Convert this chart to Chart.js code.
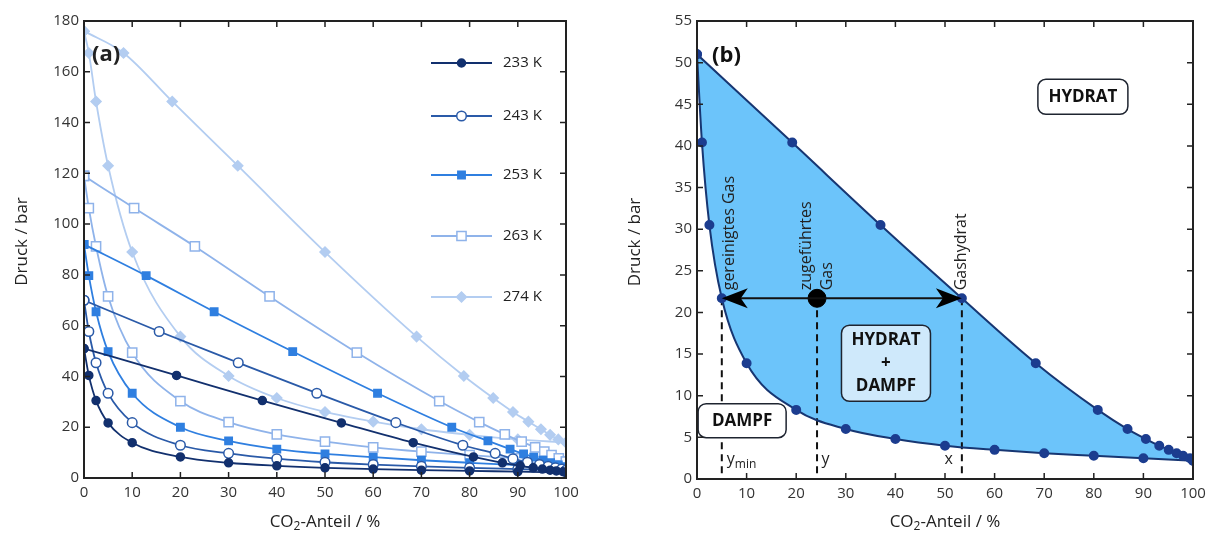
<!DOCTYPE html>
<html>
<head>
<meta charset="utf-8">
<script src="https://cdn.jsdelivr.net/npm/chart.js@4.4.1/dist/chart.umd.min.js"></script>
<style>
  body { margin: 0; background: #fff; width: 1213px; height: 534px; position: relative; overflow: hidden; }
  .wrap { position: absolute; top: 0; width: 600px; height: 534px; }
  #wa { left: 0; }
  #wb { left: 613px; }
</style>
</head>
<body>
<div class="wrap" id="wa"><canvas id="chart-a"></canvas></div>
<div class="wrap" id="wb"><canvas id="chart-b"></canvas></div>
<script>
// data: pressure (bar) vs CO2 share (%)
const temps = ["233 K", "243 K", "253 K", "263 K", "274 K"];
const xVapor = [0, 1, 2.5, 5, 10, 20, 30, 40, 50, 60, 70, 80, 90, 100];

const p233 = [51, 40.4, 30.5, 21.7, 13.9, 8.3, 6.0, 4.8, 4.0, 3.5, 3.1, 2.8, 2.5, 2.2];
const xHyd233 = [0, 19.2, 37, 53.4, 68.3, 80.8, 86.8, 90.5, 93.2, 95.1, 96.7, 98, 99.4, 100];

const p243 = [70, 57.7, 45.4, 33.4, 21.8, 12.9, 9.7, 7.6, 6.2, 5.3, 4.6, 4.0, 3.5, 3.0];
const xHyd243 = [0, 15.6, 32, 48.3, 64.7, 78.6, 85.3, 89, 92, 94.5, 96.3, 97.8, 99.1, 100];

const p253 = [92, 79.7, 65.5, 49.8, 33.4, 20, 14.6, 11.4, 9.5, 8.2, 7, 6, 5.1, 4.4];
const xHyd253 = [0, 12.9, 27, 43.3, 60.9, 76.3, 83.8, 88.4, 91.2, 93.3, 95.2, 96.8, 98.4, 100];

const p263 = [119, 106.3, 91.2, 71.5, 49.4, 30.3, 22, 17.2, 14.3, 12.1, 10.4, 9, 7.7, 6.5];
const xHyd263 = [0, 10.4, 23, 38.5, 56.6, 73.7, 82, 87.3, 90.8, 93.6, 95.5, 97, 98.5, 100];

const p274 = [176, 167.4, 148.3, 123, 89, 55.7, 40.2, 31.5, 26, 22.2, 19.2, 17, 15.2, 14];
const xHyd274 = [0, 8.2, 18.3, 31.9, 50, 69, 78.8, 84.9, 89, 92.2, 94.8, 96.7, 98.4, 100];

const pressures = [p233, p243, p253, p263, p274];
const xHydrate = [xHyd233, xHyd243, xHyd253, xHyd263, xHyd274];

// panel (b): operating point at 233 K
const pFeed = 21.7;
const yMinShare = 5;
const feedShare = 24.2;
const hydShare = 53.4;

const xTicks = [0, 10, 20, 30, 40, 50, 60, 70, 80, 90, 100];

// styles
const colors = ["#12306e", "#2a5aa8", "#2f7fe0", "#8fb3ea", "#b3cdf1"];
const pStyles = ["circle", "circle", "rect", "rect", "rectRot"];
const pRadius = [4, 4.8, 5.2, 6.5, 5];
const pOpen = [false, true, false, true, false];

const FONT = "'Open Sans', 'DejaVu Sans', sans-serif";
const pts = (xs, ys) => xs.map((x, i) => ({ x, y: ys[i] }));

function scalesFor(ymax, ystep, yw, xh) {
  return {
    x: {
      type: "linear", min: 0, max: 100,
      afterBuildTicks: s => { s.ticks = xTicks.map(v => ({ value: v })); },
      grid: { display: false, drawTicks: false },
      border: { display: false },
      ticks: { color: "#333", padding: 6, font: { family: FONT, size: 15 } },
      afterFit: s => { s.height = xh; }
    },
    y: {
      type: "linear", min: 0, max: ymax,
      grid: { display: false, drawTicks: false },
      border: { display: false },
      ticks: { stepSize: ystep, color: "#333", padding: 5, font: { family: FONT, size: 15 } },
      afterFit: s => { s.width = yw; }
    }
  };
}

// box with inward ticks on all four sides, plus axis titles
const frame = {
  id: "frame",
  afterDraw(chart) {
    const { ctx, chartArea: a, scales: { x, y } } = chart;
    ctx.save();
    ctx.strokeStyle = "#222";
    ctx.lineWidth = 1.5;
    x.ticks.forEach(t => {
      const px = x.getPixelForValue(t.value);
      ctx.beginPath();
      ctx.moveTo(px, a.bottom); ctx.lineTo(px, a.bottom - 6);
      ctx.moveTo(px, a.top); ctx.lineTo(px, a.top + 6);
      ctx.stroke();
    });
    y.ticks.forEach(t => {
      const py = y.getPixelForValue(t.value);
      ctx.beginPath();
      ctx.moveTo(a.left, py); ctx.lineTo(a.left + 6, py);
      ctx.moveTo(a.right, py); ctx.lineTo(a.right - 6, py);
      ctx.stroke();
    });
    ctx.lineWidth = 2;
    ctx.strokeRect(a.left, a.top, a.right - a.left, a.bottom - a.top);

    // axis titles
    ctx.fillStyle = "#222";
    ctx.font = "17px " + FONT;
    ctx.textBaseline = "middle";
    const cx = (a.left + a.right) / 2;
    const ty = 522;
    const w1 = ctx.measureText("CO").width;
    ctx.font = "12px " + FONT;
    const w2 = ctx.measureText("2").width;
    ctx.font = "17px " + FONT;
    const w3 = ctx.measureText("-Anteil / %").width;
    let sx = cx - (w1 + w2 + w3) / 2;
    ctx.textAlign = "left";
    ctx.fillText("CO", sx, ty);
    ctx.font = "12px " + FONT;
    ctx.fillText("2", sx + w1, ty + 5);
    ctx.font = "17px " + FONT;
    ctx.fillText("-Anteil / %", sx + w1 + w2, ty);

    ctx.translate(a.left - 62, (a.top + a.bottom) / 2 - 8);
    ctx.rotate(-Math.PI / 2);
    ctx.textAlign = "center";
    ctx.fillText("Druck / bar", 0, 0);
    ctx.restore();
  }
};

function drawMarker(ctx, style, r, x, y) {
  if (Chart.helpers && Chart.helpers.drawPoint) {
    Chart.helpers.drawPoint(ctx, { pointStyle: style, radius: r, borderWidth: ctx.lineWidth, rotation: 0 }, x, y);
    return;
  }
  ctx.beginPath();
  if (style === "circle") ctx.arc(x, y, r, 0, Math.PI * 2);
  else if (style === "rect") { const s = r * Math.SQRT1_2; ctx.rect(x - s, y - s, 2 * s, 2 * s); }
  else { ctx.moveTo(x, y - r); ctx.lineTo(x + r, y); ctx.lineTo(x, y + r); ctx.lineTo(x - r, y); ctx.closePath(); }
  ctx.fill(); ctx.stroke();
}

const legendA = {
  id: "legendA",
  afterDraw(chart) {
    const { ctx } = chart;
    const rows = [63, 116, 175, 236, 297];
    ctx.save();
    temps.forEach((t, i) => {
      const y = rows[i];
      ctx.strokeStyle = colors[i];
      ctx.lineWidth = 1.8;
      ctx.beginPath(); ctx.moveTo(431, y); ctx.lineTo(492, y); ctx.stroke();
      ctx.fillStyle = pOpen[i] ? "#fff" : colors[i];
      ctx.lineWidth = 1.5;
      drawMarker(ctx, pStyles[i], pRadius[i], 461.5, y);
      ctx.fillStyle = "#222";
      ctx.font = "15px " + FONT;
      ctx.textAlign = "left";
      ctx.textBaseline = "middle";
      ctx.fillText(t, 503, y);
    });
    ctx.font = "bold 22px " + FONT;
    ctx.fillText("(a)", 92, 55);
    ctx.restore();
  }
};

const datasetsA = [];
temps.forEach((t, i) => {
  const base = {
    borderColor: colors[i],
    backgroundColor: pOpen[i] ? "#fff" : colors[i],
    pointBorderColor: colors[i],
    pointBackgroundColor: pOpen[i] ? "#fff" : colors[i],
    pointStyle: pStyles[i],
    pointRadius: pRadius[i],
    pointBorderWidth: 1.5,
    borderWidth: 1.8,
    cubicInterpolationMode: "monotone",
    fill: false
  };
  datasetsA.push({ label: t, data: pts(xVapor, pressures[i]), ...base });
  datasetsA.push({ label: t + " Hydrat", data: pts(xHydrate[i], pressures[i]), ...base });
});

new Chart(document.getElementById("chart-a"), {
  type: "line",
  data: { datasets: datasetsA },
  options: {
    responsive: true,
    maintainAspectRatio: false,
    animation: false,
    layout: { padding: { top: 21, right: 34, left: 0, bottom: 0 } },
    plugins: { legend: { display: false }, tooltip: { enabled: false } },
    scales: scalesFor(180, 20, 84, 56)
  },
  plugins: [frame, legendA]
});

// panel (b) annotations
function roundBox(ctx, cx, cy, w, h, fill, lines, lh) {
  ctx.beginPath();
  ctx.roundRect(cx - w / 2, cy - h / 2, w, h, 8);
  ctx.fillStyle = fill;
  ctx.fill();
  ctx.lineWidth = 1.5;
  ctx.strokeStyle = "#1e2430";
  ctx.stroke();
  ctx.fillStyle = "#111";
  ctx.font = "bold 17px " + FONT;
  ctx.textAlign = "center";
  ctx.textBaseline = "middle";
  lines.forEach((s, k) => ctx.fillText(s, cx, cy + (k - (lines.length - 1) / 2) * lh));
}

function arrowHead(ctx, x, y, dir) {
  ctx.beginPath();
  ctx.moveTo(x, y);
  ctx.lineTo(x - dir * 26, y - 10);
  ctx.lineTo(x - dir * 19, y);
  ctx.lineTo(x - dir * 26, y + 10);
  ctx.closePath();
  ctx.fillStyle = "#000";
  ctx.fill();
}

function vText(ctx, text, px, py) {
  ctx.save();
  ctx.translate(px, py);
  ctx.rotate(-Math.PI / 2);
  ctx.textAlign = "left";
  ctx.textBaseline = "middle";
  ctx.fillText(text, 0, 0);
  ctx.restore();
}

const notesB = {
  id: "notesB",
  afterDatasetsDraw(chart) {
    const { ctx, scales: { x, y } } = chart;
    ctx.save();
    arrowHead(ctx, x.getPixelForValue(yMinShare), y.getPixelForValue(pFeed), -1);
    arrowHead(ctx, x.getPixelForValue(hydShare), y.getPixelForValue(pFeed), 1);

    ctx.fillStyle = "#222";
    ctx.font = "16px " + FONT;
    const yStart = y.getPixelForValue(pFeed) - 8;
    vText(ctx, "gereinigtes Gas", x.getPixelForValue(6.5), yStart);
    vText(ctx, "zugeführtes", x.getPixelForValue(22), yStart);
    vText(ctx, "Gas", x.getPixelForValue(26.2), yStart);
    vText(ctx, "Gashydrat", x.getPixelForValue(53.4), yStart);

    ctx.textBaseline = "middle";
    ctx.textAlign = "left";
    const ly = y.getPixelForValue(2.3);
    const px1 = x.getPixelForValue(6.0);
    ctx.fillText("y", px1, ly);
    const wy = ctx.measureText("y").width;
    ctx.font = "12px " + FONT;
    ctx.fillText("min", px1 + wy, ly + 5);
    ctx.font = "16px " + FONT;
    ctx.fillText("y", x.getPixelForValue(25.1), ly);
    ctx.textAlign = "right";
    ctx.fillText("x", x.getPixelForValue(51.6), ly);

    roundBox(ctx, x.getPixelForValue(77.8), y.getPixelForValue(45.9), 90, 35, "#fff", ["HYDRAT"], 0);
    roundBox(ctx, x.getPixelForValue(38.1), y.getPixelForValue(13.9), 89, 76, "#cfe9fb", ["HYDRAT", "+", "DAMPF"], 23);
    roundBox(ctx, x.getPixelForValue(9.1), y.getPixelForValue(7.0), 88, 34, "#fff", ["DAMPF"], 0);

    ctx.fillStyle = "#111";
    ctx.font = "bold 22px " + FONT;
    ctx.textAlign = "left";
    ctx.fillText("(b)", chart.chartArea.left + 15, 56);
    ctx.restore();
  }
};

const navy = "#173672";
const dashed = s => ({
  data: [{ x: s, y: pFeed }, { x: s, y: 0 }],
  borderColor: "#111", borderWidth: 2, borderDash: [7, 5], pointRadius: 0, fill: false
});

new Chart(document.getElementById("chart-b"), {
  type: "line",
  data: {
    datasets: [
      {
        label: "Gashydrat",
        data: pts(xHyd233, p233),
        borderColor: navy, borderWidth: 2,
        backgroundColor: "#6cc4fa",
        pointBackgroundColor: "#1c3d8f", pointBorderColor: "#1c3d8f", pointRadius: 4,
        cubicInterpolationMode: "monotone",
        fill: "+1"
      },
      {
        label: "Dampf",
        data: pts(xVapor, p233),
        borderColor: navy, borderWidth: 2,
        pointBackgroundColor: "#1c3d8f", pointBorderColor: "#1c3d8f", pointRadius: 4,
        cubicInterpolationMode: "monotone",
        fill: false
      },
      {
        label: "Arbeitslinie",
        data: [{ x: yMinShare, y: pFeed }, { x: hydShare, y: pFeed }],
        borderColor: "#111", borderWidth: 2, pointRadius: 0, fill: false
      },
      {
        label: "Feed",
        data: [{ x: feedShare, y: pFeed }],
        pointRadius: 9, pointBackgroundColor: "#000", pointBorderColor: "#000", showLine: false
      },
      dashed(yMinShare),
      dashed(feedShare),
      dashed(hydShare)
    ]
  },
  options: {
    responsive: true,
    maintainAspectRatio: false,
    animation: false,
    layout: { padding: { top: 21, right: 20, left: 0, bottom: 0 } },
    plugins: {
      legend: { display: false },
      tooltip: { enabled: false },
      filler: { drawTime: "beforeDatasetsDraw" }
    },
    scales: scalesFor(55, 5, 84, 55)
  },
  plugins: [frame, notesB]
});
</script>
</body>
</html>
